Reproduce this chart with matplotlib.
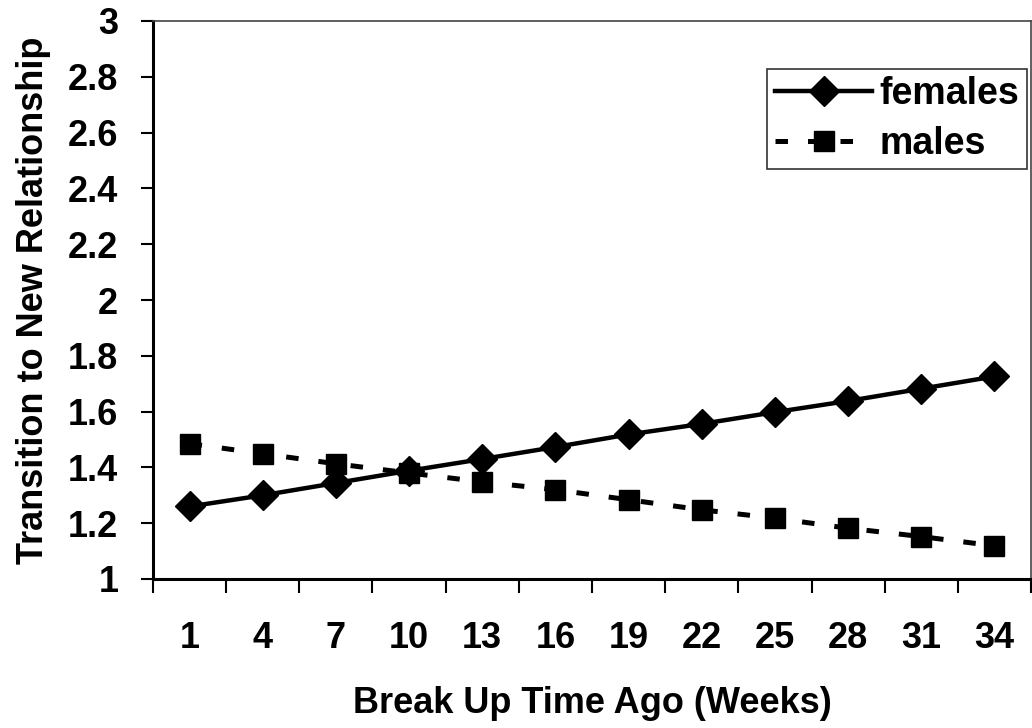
import numpy as np
import matplotlib
matplotlib.use("Agg")
import matplotlib.pyplot as plt

plt.rcParams['font.family'] = ['Liberation Sans', 'DejaVu Sans']
plt.rcParams['font.weight'] = 'bold'

weeks = ['1', '4', '7', '10', '13', '16', '19', '22', '25', '28', '31', '34']
females = [1.26, 1.30, 1.344, 1.388, 1.43, 1.473, 1.518, 1.556, 1.598, 1.638, 1.682, 1.726]
males = [1.485, 1.449, 1.413, 1.38, 1.348, 1.32, 1.284, 1.248, 1.218, 1.182, 1.152, 1.119]

fig = plt.figure(figsize=(10.32, 7.28), dpi=100)
ax = fig.add_axes([153 / 1032, 1 - 579 / 728, (1031 - 153) / 1032, (579 - 21) / 728])

x = np.arange(len(weeks))
ax.plot(x, females, color='black', lw=3.2, marker='D', markersize=15,
        label='females', clip_on=False)
ax.plot(x, males, color='black', lw=3.6, marker='s', markersize=14,
        linestyle=(0, (2.5, 4)), label='males', clip_on=False)

ax.set_xlim(-0.5, len(weeks) - 0.5)
ax.set_ylim(1, 3)
ax.set_yticks(np.arange(1, 3.01, 0.2))
ax.set_yticklabels(['1', '1.2', '1.4', '1.6', '1.8', '2', '2.2', '2.4', '2.6', '2.8', '3'])

ax.set_xticks(x)
ax.set_xticklabels(weeks)
ax.set_xticks(np.arange(-0.5, len(weeks)), minor=True)
ax.tick_params(axis='x', which='major', length=0, pad=30, labelsize=26)
ax.tick_params(axis='x', which='minor', length=10, width=1.5, direction='out')
ax.tick_params(axis='y', length=9, width=1.5, direction='out', pad=16, labelsize=26)

for s in ['left', 'bottom']:
    ax.spines[s].set_linewidth(2.2)
for s in ['top', 'right']:
    ax.spines[s].set_linewidth(1.2)
    ax.spines[s].set_color('#444444')

ax.set_xlabel('Break Up Time Ago (Weeks)', fontsize=26, fontweight='bold', labelpad=22)
ax.set_ylabel('Transition to New Relationship', fontsize=26, fontweight='bold', labelpad=12)

leg = ax.legend(loc='upper right', bbox_to_anchor=(1.0 - 4 / 878, 1 - 48 / 558), fontsize=27,
                frameon=True, fancybox=False, edgecolor='black', handlelength=2.6,
                borderpad=0.2, labelspacing=0.36, handletextpad=0.2, borderaxespad=0)
leg.get_frame().set_linewidth(1.2)

fig.savefig('out.png', dpi=100)
